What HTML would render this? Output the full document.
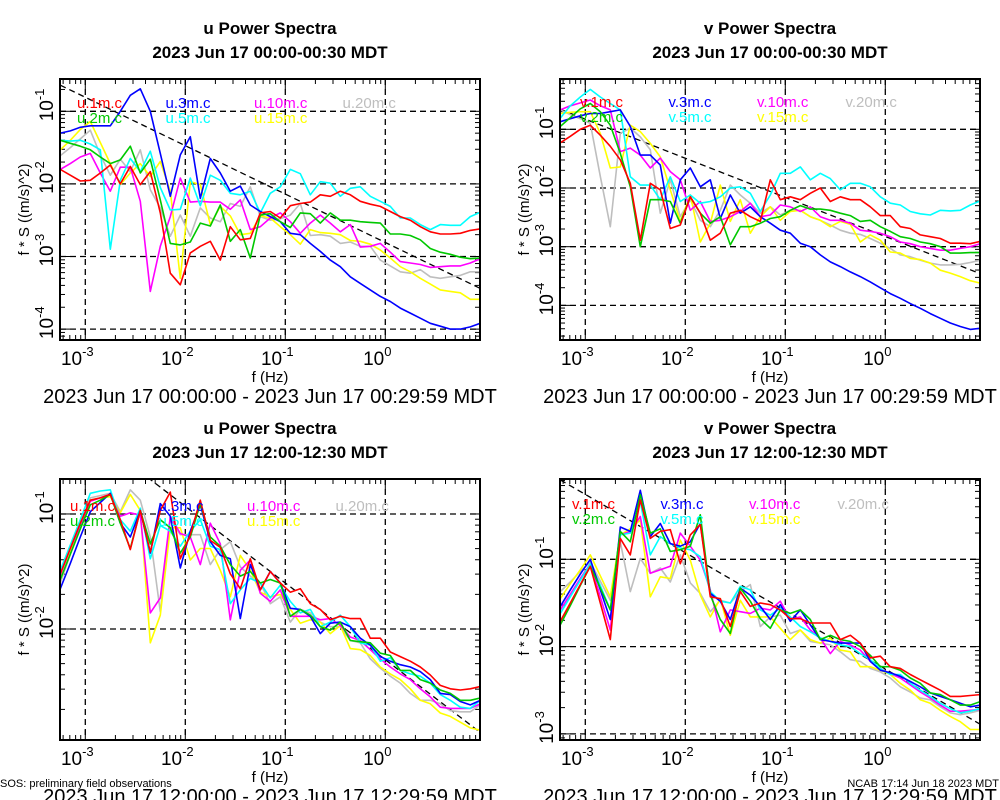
<!DOCTYPE html>
<html><head><meta charset="utf-8"><style>
html,body{margin:0;padding:0;background:#fff;}
svg{display:block;font-family:"Liberation Sans",sans-serif;}
</style></head><body>
<svg id="chart" width="1000" height="800" viewBox="0 0 1000 800"></svg>
<script>
// log10 frequency categories (Hz)
const freqLog = [-3.25,-3.15,-3.05,-2.95,-2.85,-2.75,-2.65,-2.55,-2.45,-2.35,-2.25,-2.15,-2.05,-1.95,-1.85,-1.75,-1.65,-1.55,-1.45,-1.35,-1.25,-1.15,-1.05,-0.95,-0.85,-0.75,-0.65,-0.55,-0.45,-0.35,-0.25,-0.15,-0.05,0.05,0.15,0.25,0.35,0.45,0.55,0.65,0.75,0.85,0.95];
const seriesNames = ["1m","3m","10m","20m","2m","5m","15m"];
// Panel 1: u 00:00 (log10 of f*S)
const p1_1m = [-1.8,-1.88,-1.96,-1.95,-1.85,-1.74,-2.0,-1.76,-2.01,-1.83,-2.4,-3.23,-3.39,-2.95,-2.86,-2.79,-3.05,-2.59,-2.77,-2.75,-2.4,-2.38,-2.47,-2.3,-2.27,-2.25,-2.15,-2.17,-2.1,-2.15,-2.24,-2.28,-2.31,-2.38,-2.45,-2.5,-2.59,-2.66,-2.69,-2.69,-2.68,-2.64,-2.62];
const p1_2m = [-1.4,-1.44,-1.48,-1.53,-1.63,-1.72,-1.67,-1.48,-1.85,-1.66,-2.22,-2.82,-2.84,-2.8,-2.54,-2.58,-2.29,-2.79,-2.63,-3.02,-2.43,-2.41,-2.52,-2.6,-2.4,-2.41,-2.54,-2.4,-2.5,-2.5,-2.52,-2.53,-2.54,-2.69,-2.69,-2.71,-2.77,-2.89,-2.94,-2.97,-3.01,-3.03,-3.02];
const p1_3m = [-1.3,-1.27,-1.22,-1.2,-1.2,-1.2,-1.0,-0.78,-0.69,-1.0,-1.58,-2.17,-1.6,-1.35,-2.2,-1.65,-1.85,-2.1,-2.03,-2.29,-2.38,-2.45,-2.52,-2.68,-2.7,-2.82,-2.93,-3.05,-3.14,-3.28,-3.37,-3.46,-3.55,-3.62,-3.71,-3.78,-3.85,-3.92,-3.96,-4.0,-4.0,-3.97,-3.92];
const p1_5m = [-1.4,-1.41,-1.4,-1.45,-1.53,-2.9,-1.95,-1.65,-1.83,-1.55,-2.05,-2.36,-2.35,-1.92,-2.3,-1.88,-1.95,-2.13,-2.15,-2.1,-2.4,-2.13,-2.04,-1.8,-1.86,-2.15,-1.97,-1.99,-2.17,-2.06,-2.04,-2.17,-2.24,-2.31,-2.47,-2.47,-2.56,-2.63,-2.56,-2.57,-2.57,-2.45,-2.39];
const p1_10m = [-1.8,-1.72,-1.63,-1.58,-1.85,-2.1,-1.77,-1.77,-2.24,-3.48,-2.86,-2.45,-1.92,-2.25,-2.24,-2.25,-2.25,-2.35,-2.22,-2.63,-2.59,-2.47,-2.4,-2.52,-2.68,-2.54,-2.43,-2.54,-2.66,-2.56,-2.87,-2.86,-2.82,-2.94,-3.07,-3.09,-3.11,-3.15,-3.14,-3.13,-3.13,-3.09,-3.03];
const p1_15m = [-1.53,-1.4,-1.25,-1.14,-1.43,-1.72,-2.01,-1.85,-1.72,-1.9,-1.69,-2.1,-3.3,-1.97,-2.01,-2.56,-2.31,-2.44,-2.7,-2.68,-2.44,-2.47,-2.59,-2.7,-2.83,-2.63,-2.67,-2.68,-2.7,-2.78,-2.79,-2.83,-2.91,-3.02,-3.14,-3.21,-3.3,-3.38,-3.46,-3.48,-3.5,-3.59,-3.59];
const p1_20m = [-1.61,-1.5,-1.38,-1.26,-1.6,-1.88,-1.66,-1.83,-1.53,-2.08,-2.33,-2.72,-2.43,-2.72,-2.33,-2.47,-2.52,-2.27,-2.31,-2.04,-2.45,-2.5,-2.48,-2.43,-2.27,-2.71,-2.7,-2.72,-2.82,-2.8,-2.86,-2.86,-3.05,-3.13,-3.21,-3.23,-3.18,-3.28,-3.3,-3.28,-3.26,-3.21,-3.21];
// Panel 2: v 00:00
const p2_1m = [-1.23,-1.12,-1.0,-0.93,-1.1,-1.29,-1.52,-1.92,-2.89,-1.92,-2.03,-2.69,-2.63,-2.15,-2.43,-2.89,-2.77,-2.43,-2.38,-2.49,-2.57,-1.86,-2.2,-2.15,-2.2,-2.09,-2.0,-2.23,-2.15,-2.2,-2.2,-2.32,-2.47,-2.47,-2.66,-2.69,-2.8,-2.83,-2.86,-2.94,-2.94,-2.95,-2.91];
const p2_2m = [-0.95,-0.8,-0.65,-0.56,-0.7,-0.93,-1.41,-1.98,-3.0,-2.2,-2.2,-2.23,-2.6,-2.15,-2.43,-2.6,-2.49,-2.97,-2.66,-2.66,-2.6,-2.52,-2.49,-2.38,-2.3,-2.36,-2.36,-2.38,-2.43,-2.47,-2.57,-2.55,-2.66,-2.74,-2.83,-2.86,-2.92,-2.95,-3.0,-3.11,-3.11,-3.1,-3.1];
const p2_3m = [-0.87,-0.82,-0.77,-0.73,-0.73,-0.7,-0.67,-0.95,-1.44,-1.44,-1.61,-2.6,-1.86,-1.66,-1.98,-1.86,-2.52,-2.12,-2.43,-2.32,-2.49,-2.6,-2.72,-2.77,-2.94,-3.0,-3.14,-3.26,-3.34,-3.43,-3.51,-3.6,-3.7,-3.8,-3.88,-3.97,-4.05,-4.14,-4.22,-4.3,-4.36,-4.41,-4.39];
const p2_5m = [-0.81,-0.6,-0.45,-0.32,-0.45,-0.56,-0.67,-1.81,-1.95,-1.95,-2.2,-1.81,-2.23,-2.12,-2.26,-2.23,-2.15,-2.0,-1.98,-2.09,-2.4,-2.12,-1.75,-1.75,-1.64,-1.86,-1.75,-1.84,-2.03,-1.92,-1.92,-1.98,-2.15,-2.26,-2.29,-2.4,-2.44,-2.46,-2.38,-2.39,-2.38,-2.29,-2.22];
const p2_10m = [-0.67,-0.6,-0.55,-0.5,-0.6,-0.67,-1.38,-1.32,-1.44,-1.66,-1.49,-1.72,-1.86,-2.38,-2.23,-2.57,-2.55,-2.49,-2.4,-2.26,-2.49,-2.46,-2.29,-2.32,-2.4,-2.32,-2.49,-2.55,-2.55,-2.6,-2.72,-2.74,-2.77,-2.83,-2.92,-2.95,-3.0,-3.03,-3.06,-3.06,-3.03,-3.0,-2.95];
const p2_15m = [-0.73,-0.71,-0.7,-0.7,-1.07,-1.66,-1.64,-0.93,-1.04,-1.24,-1.47,-2.03,-2.57,-2.12,-2.92,-2.6,-1.95,-2.57,-2.2,-2.77,-2.49,-2.32,-2.55,-2.4,-2.38,-2.49,-2.55,-2.66,-2.57,-2.62,-2.92,-2.8,-2.89,-3.09,-3.11,-3.2,-3.22,-3.28,-3.4,-3.45,-3.51,-3.58,-3.62];
const p2_20m = [-0.67,-0.75,-0.82,-0.9,-1.8,-2.66,-1.07,-0.98,-1.13,-1.35,-2.43,-1.86,-2.49,-2.2,-2.55,-2.66,-2.38,-1.95,-2.12,-2.26,-2.43,-2.32,-2.46,-2.38,-2.38,-2.49,-2.55,-2.63,-2.72,-2.77,-2.79,-2.86,-2.94,-3.03,-3.14,-3.17,-3.23,-3.28,-3.31,-3.31,-3.3,-3.27,-3.23];
// Panel 3: u 12:00
const p3_1m = [-1.52,-1.3,-1.08,-0.88,-0.86,-0.83,-1.05,-1.31,-0.97,-1.33,-0.97,-0.81,-1.39,-1.18,-0.88,-1.23,-1.29,-1.52,-1.65,-1.39,-1.66,-1.5,-1.6,-1.68,-1.65,-1.78,-1.83,-1.92,-1.89,-1.91,-1.91,-2.08,-2.08,-2.2,-2.24,-2.28,-2.33,-2.4,-2.49,-2.52,-2.53,-2.52,-2.5];
const p3_2m = [-1.57,-1.35,-1.13,-0.92,-0.88,-0.83,-1.08,-1.3,-0.97,-1.26,-1.05,-1.12,-1.34,-1.2,-0.91,-1.2,-1.28,-1.44,-1.54,-1.5,-1.6,-1.57,-1.6,-1.89,-1.83,-1.88,-1.98,-2.01,-1.94,-2.1,-2.11,-2.12,-2.21,-2.23,-2.36,-2.36,-2.44,-2.47,-2.53,-2.56,-2.62,-2.62,-2.6];
const p3_3m = [-1.65,-1.43,-1.2,-0.98,-0.9,-0.82,-1.08,-1.2,-0.97,-1.34,-0.91,-1.02,-1.47,-1.15,-0.92,-1.24,-1.36,-1.39,-1.91,-1.44,-1.66,-1.5,-1.6,-1.82,-1.83,-1.89,-2.04,-1.95,-1.94,-1.98,-2.08,-2.14,-2.24,-2.28,-2.31,-2.33,-2.37,-2.44,-2.56,-2.57,-2.63,-2.66,-2.62];
const p3_5m = [-1.49,-1.27,-1.05,-0.82,-0.8,-0.79,-1.05,-1.15,-0.95,-1.39,-1.1,-1.15,-1.28,-1.15,-1.05,-1.28,-1.31,-1.78,-1.66,-1.56,-1.6,-1.73,-1.62,-1.76,-1.86,-1.83,-1.98,-1.94,-1.88,-1.98,-2.12,-2.14,-2.28,-2.25,-2.36,-2.39,-2.41,-2.47,-2.57,-2.62,-2.68,-2.69,-2.62];
const p3_10m = [-1.53,-1.3,-1.1,-0.89,-0.86,-0.83,-1.02,-0.99,-1.01,-1.86,-1.73,-1.02,-1.17,-1.2,-1.44,-1.08,-1.26,-1.92,-1.49,-1.4,-1.69,-1.76,-1.66,-1.89,-1.89,-1.89,-1.92,-1.91,-1.97,-2.07,-2.1,-2.18,-2.26,-2.33,-2.39,-2.44,-2.52,-2.59,-2.68,-2.69,-2.69,-2.69,-2.65];
const p3_15m = [-1.57,-1.34,-1.1,-0.88,-0.86,-0.85,-0.99,-0.83,-0.97,-2.12,-1.88,-1.12,-1.12,-1.4,-1.3,-1.3,-1.49,-1.72,-1.36,-1.49,-1.68,-1.72,-1.7,-1.83,-1.95,-1.92,-1.94,-2.04,-1.97,-2.17,-2.18,-2.23,-2.33,-2.39,-2.44,-2.52,-2.62,-2.65,-2.73,-2.76,-2.81,-2.86,-2.88];
const p3_20m = [-1.6,-1.35,-1.1,-0.86,-0.84,-0.82,-0.98,-0.79,-0.88,-1.2,-1.85,-1.05,-1.18,-1.18,-1.18,-1.44,-1.31,-1.24,-1.46,-1.54,-1.6,-1.78,-1.72,-1.94,-1.83,-1.86,-1.94,-1.98,-1.98,-2.1,-2.12,-2.26,-2.34,-2.41,-2.47,-2.56,-2.62,-2.62,-2.65,-2.71,-2.72,-2.72,-2.66];
// Panel 4: v 12:00
const p4_1m = [-1.71,-1.5,-1.29,-1.08,-1.5,-1.92,-0.76,-0.95,-0.32,-0.76,-0.68,-0.66,-1.05,-0.72,-0.6,-1.43,-1.45,-1.77,-1.37,-1.54,-1.5,-1.52,-1.58,-1.68,-1.68,-1.73,-1.73,-1.73,-1.92,-1.87,-1.96,-2.13,-2.11,-2.23,-2.25,-2.32,-2.38,-2.44,-2.5,-2.57,-2.57,-2.56,-2.55];
const p4_2m = [-1.75,-1.53,-1.3,-1.08,-1.33,-1.58,-0.68,-0.8,-0.26,-0.7,-0.65,-0.91,-0.89,-0.85,-0.49,-1.41,-1.69,-1.85,-1.33,-1.48,-1.68,-1.79,-1.58,-1.62,-1.58,-1.69,-1.92,-1.87,-1.92,-1.94,-2.0,-2.1,-2.23,-2.23,-2.27,-2.36,-2.42,-2.53,-2.55,-2.61,-2.67,-2.67,-2.63];
const p4_3m = [-1.54,-1.35,-1.17,-1.0,-1.35,-1.69,-0.63,-0.68,-0.21,-0.74,-0.59,-0.82,-0.85,-0.8,-0.59,-1.39,-1.48,-1.69,-1.33,-1.41,-1.54,-1.69,-1.52,-1.71,-1.58,-1.75,-1.92,-1.94,-1.96,-1.96,-1.96,-2.17,-2.27,-2.3,-2.34,-2.4,-2.46,-2.53,-2.57,-2.61,-2.65,-2.69,-2.67];
const p4_5m = [-1.62,-1.43,-1.24,-1.05,-1.3,-1.58,-0.72,-0.7,-0.34,-0.95,-0.74,-0.82,-0.87,-0.89,-0.97,-1.37,-1.48,-1.5,-1.31,-1.35,-1.58,-1.64,-1.56,-1.66,-1.77,-1.83,-1.9,-1.94,-1.98,-2.0,-2.08,-2.15,-2.25,-2.32,-2.32,-2.42,-2.5,-2.57,-2.65,-2.71,-2.76,-2.74,-2.71];
const p4_10m = [-1.58,-1.4,-1.22,-1.05,-1.43,-1.81,-0.72,-0.68,-0.51,-1.16,-1.12,-1.08,-0.7,-0.85,-1.01,-1.35,-1.83,-1.58,-1.6,-1.62,-1.56,-1.58,-1.48,-1.69,-1.66,-1.81,-1.9,-2.08,-1.94,-1.98,-2.04,-2.17,-2.25,-2.31,-2.36,-2.44,-2.52,-2.59,-2.67,-2.74,-2.74,-2.73,-2.72];
const p4_15m = [-1.45,-1.28,-1.12,-0.95,-1.19,-1.43,-0.72,-0.65,-0.55,-1.43,-1.2,-1.22,-0.78,-1.01,-1.41,-1.66,-1.45,-1.87,-1.47,-1.66,-1.66,-1.66,-1.79,-1.92,-1.81,-1.92,-1.96,-1.9,-2.04,-2.06,-2.23,-2.23,-2.27,-2.32,-2.42,-2.5,-2.61,-2.65,-2.73,-2.8,-2.86,-2.95,-2.95];
const p4_20m = [-1.37,-1.26,-1.14,-1.03,-1.25,-1.47,-0.8,-1.37,-0.99,-1.16,-1.1,-1.26,-0.95,-1.27,-1.39,-1.6,-1.47,-1.5,-1.37,-1.29,-1.77,-1.66,-1.64,-1.85,-1.81,-1.94,-1.96,-1.98,-2.06,-2.15,-2.17,-2.25,-2.29,-2.36,-2.46,-2.52,-2.59,-2.61,-2.69,-2.76,-2.78,-2.76,-2.73];
// x tick exponents, y tick exponents per panel
const xTicks = [-3,-2,-1,0];
const p1_yTicks = [-1,-2,-3,-4];
const p2_yTicks = [-1,-2,-3,-4];
const p3_yTicks = [-1,-2];
const p4_yTicks = [-1,-2,-3];
// reference slope line: log10 value at log f = -3.25, slope -2/3
const refStart = [-0.64,-0.66,-0.10,-0.09];
const refSlope = -2/3;

const NS="http://www.w3.org/2000/svg";
const svg=document.getElementById('chart');
function mk(tag,attrs,parent){const e=document.createElementNS(NS,tag);for(const k in attrs)e.setAttribute(k,attrs[k]);(parent||svg).appendChild(e);return e;}
function txt(s,attrs,parent){const e=mk('text',attrs,parent);e.textContent=s;return e;}

const colors={"1m":"#ff0000","2m":"#00c800","3m":"#0000ff","5m":"#00ffff","10m":"#ff00ff","15m":"#ffff00","20m":"#bebebe"};
const XMIN=-3.253, XMAX=0.947;

function drawPanel(cfg){
  const g=mk('g',{});
  
  
  const W=420,H=261,x0=cfg.x0,y0=79+cfg.dy;
  const xs=lf=>x0+(lf-XMIN)/(XMAX-XMIN)*W;
  const ys=lv=>y0+(cfg.ymax-lv)/(cfg.ymax-cfg.ymin)*H;
  const cid='clip'+cfg.id;
  const cp=mk('clipPath',{id:cid},g);mk('rect',{x:x0,y:y0,width:W,height:H},cp);
  const t1=txt(cfg.title,{x:x0+210,y:y0-45,'text-anchor':'middle','font-size':17,'font-weight':'bold'},g);
  
  const t2=txt(cfg.sub,{x:x0+210,y:y0-21,'text-anchor':'middle','font-size':17,'font-weight':'bold'},g);
  
  const grid=mk('g',{stroke:'#000','stroke-width':1.3,'stroke-dasharray':'6,4','clip-path':'url(#'+cid+')'},g);
  
  xTicks.forEach(t=>mk('line',{x1:xs(t),x2:xs(t),y1:y0,y2:y0+H},grid));
  cfg.yTicks.forEach(t=>mk('line',{x1:x0,x2:x0+W,y1:ys(t),y2:ys(t)},grid));
  const tk=mk('g',{stroke:'#000','stroke-width':1},g);
  
  for(let d=-4;d<=1;d++)for(let m=1;m<=9;m++){const lf=d+Math.log10(m);if(lf<XMIN||lf>XMAX)continue;const L=m===1?10:5;const X=xs(lf);
    mk('line',{x1:X,x2:X,y1:y0+H,y2:y0+H-L},tk);mk('line',{x1:X,x2:X,y1:y0,y2:y0+L},tk);}
  for(let d=-5;d<=0;d++)for(let m=1;m<=9;m++){const lv=d+Math.log10(m);if(lv<cfg.ymin||lv>cfg.ymax)continue;const L=m===1?10:5;const Y=ys(lv);
    mk('line',{x1:x0,x2:x0+L,y1:Y,y2:Y},tk);mk('line',{x1:x0+W,x2:x0+W-L,y1:Y,y2:Y},tk);}
  const rl=mk('line',{x1:xs(-3.25),y1:ys(cfg.ref),x2:xs(0.95),y2:ys(cfg.ref+refSlope*4.2),stroke:'#000','stroke-width':1.3,'stroke-dasharray':'6,4','clip-path':'url(#'+cid+')'},g);
  
  const order=["20m","15m","10m","5m","3m","2m","1m"];
  order.forEach(k=>{const vals=cfg.series[k];
    const d=vals.map((v,i)=>(i?'L':'M')+xs(freqLog[i]).toFixed(1)+','+ys(v).toFixed(1)).join('');
    const p=mk('path',{d:d,fill:'none',stroke:colors[k],'stroke-width':1.6,'stroke-linejoin':'round','clip-path':'url(#'+cid+')'},g);
    
    
  });
  const fr=mk('rect',{x:x0,y:y0,width:W,height:H,fill:'none',stroke:'#000','stroke-width':2},g);
  
  xTicks.forEach(t=>{const e=mk('text',{x:xs(t)-8,y:y0+H+25,'text-anchor':'middle','font-size':19},g);
    
    e.appendChild(document.createTextNode('10'));const s=mk('tspan',{dy:-9,'font-size':13},e);s.textContent=String(t);});
  cfg.yTicks.forEach(t=>{const Y=ys(t);const e=mk('text',{transform:'translate('+(x0-7)+','+(Y+10)+') rotate(-90)','font-size':19},g);
    
    e.appendChild(document.createTextNode('10'));const s=mk('tspan',{dy:-9,'font-size':13},e);s.textContent=String(t);});
  const xl=txt('f (Hz)',{x:x0+210,y:y0+H+42,'text-anchor':'middle','font-size':15},g);
  
  const yl=txt('f * S ((m/s)^2)',{transform:'translate('+(x0-31)+','+(y0+H/2)+') rotate(-90)','text-anchor':'middle','font-size':15},g);
  
  const dt=txt(cfg.range,{x:x0+210,y:y0+H+63,'text-anchor':'middle','font-size':20},g);
  
  const cols=[["1m","2m"],["3m","5m"],["10m","15m"],["20m"]];
  cols.forEach((c,ci)=>c.forEach((k,ri)=>{
    const e=txt(cfg.var+'.'+k+'.c',{x:cfg.lx+ci*88.5,y:cfg.ly+ri*15,'font-size':15,fill:colors[k]},g);
    
  }));
}

drawPanel({id:1,name:'panel-u-night',var:'u',x0:60,dy:0,ymin:-4.15,ymax:-0.555,yTicks:p1_yTicks,ref:refStart[0],
  title:'u Power Spectra',sub:'2023 Jun 17 00:00-00:30 MDT',range:'2023 Jun 17 00:00:00 - 2023 Jun 17 00:29:59 MDT',lx:77,ly:108,
  series:{"1m":p1_1m,"2m":p1_2m,"3m":p1_3m,"5m":p1_5m,"10m":p1_10m,"15m":p1_15m,"20m":p1_20m}});
drawPanel({id:2,name:'panel-v-night',var:'v',x0:560,dy:0,ymin:-4.59,ymax:-0.143,yTicks:p2_yTicks,ref:refStart[1],
  title:'v Power Spectra',sub:'2023 Jun 17 00:00-00:30 MDT',range:'2023 Jun 17 00:00:00 - 2023 Jun 17 00:29:59 MDT',lx:580,ly:107,
  series:{"1m":p2_1m,"2m":p2_2m,"3m":p2_3m,"5m":p2_5m,"10m":p2_10m,"15m":p2_15m,"20m":p2_20m}});
drawPanel({id:3,name:'panel-u-day',var:'u',x0:60,dy:400,ymin:-2.965,ymax:-0.696,yTicks:p3_yTicks,ref:refStart[2],
  title:'u Power Spectra',sub:'2023 Jun 17 12:00-12:30 MDT',range:'2023 Jun 17 12:00:00 - 2023 Jun 17 12:29:59 MDT',lx:70,ly:511,
  series:{"1m":p3_1m,"2m":p3_2m,"3m":p3_3m,"5m":p3_5m,"10m":p3_10m,"15m":p3_15m,"20m":p3_20m}});
drawPanel({id:4,name:'panel-v-day',var:'v',x0:560,dy:400,ymin:-3.07,ymax:-0.08,yTicks:p4_yTicks,ref:refStart[3],
  title:'v Power Spectra',sub:'2023 Jun 17 12:00-12:30 MDT',range:'2023 Jun 17 12:00:00 - 2023 Jun 17 12:29:59 MDT',lx:572,ly:509,
  series:{"1m":p4_1m,"2m":p4_2m,"3m":p4_3m,"5m":p4_5m,"10m":p4_10m,"15m":p4_15m,"20m":p4_20m}});

const f1=txt('SOS: preliminary field observations',{x:0,y:787,'font-size':11});


const f2=txt('NCAB 17:14 Jun 18 2023 MDT',{x:999,y:787,'font-size':11,'text-anchor':'end'});


</script>
</body></html>
